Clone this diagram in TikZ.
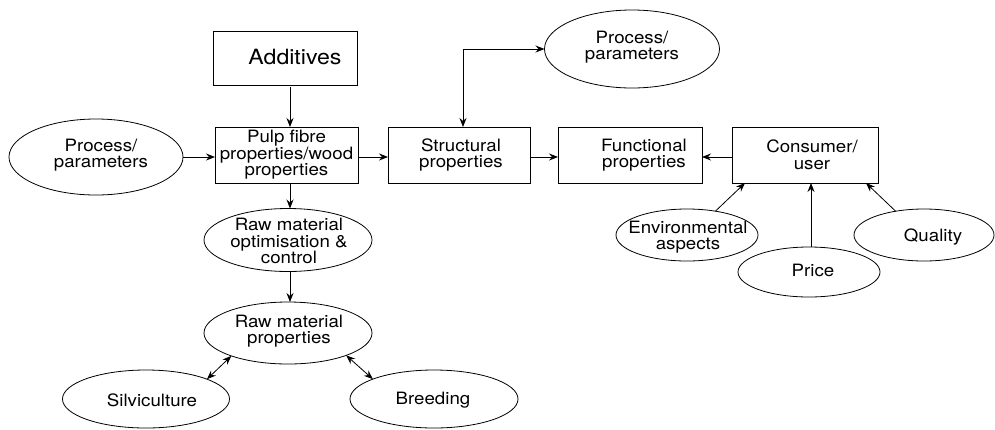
\documentclass[tikz,border=0pt]{standalone}
\usepackage{fontspec}
\setmainfont{TeX Gyre Heros}[FakeStretch=1.1]
\usetikzlibrary{shapes.geometric,arrows.meta,calc}
\begin{document}
\begin{tikzpicture}[x=1pt,y=-1pt,
  box/.style={draw,line width=0.8pt,rectangle,inner sep=0pt,outer sep=0pt},
  ell/.style={draw,ellipse,line width=0.8pt,inner sep=0pt,outer sep=0pt},
  lbl/.style={align=center,inner sep=0pt,font=\fontsize{17}{16.5}\selectfont},
  arr/.style={line width=0.8pt,-{Stealth[length=9pt,width=7pt,inset=3pt]}},
  darr/.style={line width=0.8pt,{Stealth[length=9pt,width=7pt,inset=3pt]}-{Stealth[length=9pt,width=7pt,inset=3pt]}}]
\useasboundingbox (0,0) rectangle (995,429);
% boxes
\node[box,minimum width=144pt,minimum height=54pt] (add) at (285,58) {};
\node[lbl,font=\fontsize{21}{21}\selectfont] (addt) at (295,57) {Additives};
\node[box,minimum width=143pt,minimum height=56pt] (pulp) at (286.5,155) {};
\node[lbl] (pulpt) at (286.5,155) {Pulp fibre\\properties/wood\\properties};
\node[box,minimum width=142pt,minimum height=56pt] (struct) at (459,155) {};
\node[lbl] (structt) at (461,155) {Structural\\properties};
\node[box,minimum width=144pt,minimum height=56pt] (func) at (630,155) {};
\node[lbl] (funct) at (644,155) {Functional\\properties};
\node[box,minimum width=146pt,minimum height=56pt] (cons) at (805,155) {};
\node[lbl] (const) at (812,155) {Consumer/\\user};
% ellipses
\node[ell,minimum width=174pt,minimum height=76pt] (pp1) at (96,157) {};
\node[lbl] (pp1t) at (101,155) {Process/\\parameters};
\node[ell,minimum width=175pt,minimum height=78pt] (pp2) at (632,49) {};
\node[lbl] (pp2t) at (632,47) {Process/\\parameters};
\node[ell,minimum width=168pt,minimum height=63pt] (rmo) at (288,240) {};
\node[lbl] (rmot) at (289,241) {Raw material\\optimisation \&\\control};
\node[ell,minimum width=168pt,minimum height=62pt] (rmp) at (288,333) {};
\node[lbl] (rmpt) at (289,331) {Raw material\\properties};
\node[ell,minimum width=167pt,minimum height=58pt] (silv) at (146,399) {};
\node[lbl] (silvt) at (152,400) {Silviculture};
\node[ell,minimum width=168pt,minimum height=58pt] (breed) at (434,399) {};
\node[lbl] (breedt) at (433,400) {Breeding};
\node[ell,minimum width=142pt,minimum height=52pt] (env) at (687,235) {};
\node[lbl] (envt) at (688,237) {Environmental\\aspects};
\node[ell,minimum width=142pt,minimum height=50pt] (price) at (809,272) {};
\node[lbl] (pricet) at (813,270) {Price};
\node[ell,minimum width=140pt,minimum height=52pt] (qual) at (924,235) {};
\node[lbl] (qualt) at (933,237) {Quality};
% helper coordinates
\coordinate (vx) at (290,0);
\coordinate (hy) at (0,157);
\coordinate (ex) at (463,0);
\coordinate (px) at (811,0);
\coordinate (ecx) at (745,0);
\coordinate (qcx) at (866,0);
% connectors
\draw[arr,shorten <=2pt] (add.south -| vx) -- (pulp.north -| vx);
\draw[arr] (pulp.south -| vx) -- (rmo.north -| vx);
\draw[arr] (rmo.south -| vx) -- (rmp.north -| vx);
\draw[arr] (pp1.east |- hy) -- (pulp.west |- hy);
\draw[arr] (pulp.east |- hy) -- (struct.west |- hy);
\draw[arr] (struct.east |- hy) -- (func.west |- hy);
\draw[arr] (cons.west |- hy) -- (func.east |- hy);
\draw[darr] (struct.north -| ex) |- (pp2.west);
\draw[darr] (silv.18) -- (rmp.202);
\draw[darr] (breed.162) -- (rmp.339);
\draw[arr] (env.40) -- (cons.south -| ecx);
\draw[arr] (price.north -| px) -- (cons.south -| px);
\draw[arr] (qual.140) -- (cons.south -| qcx);
\end{tikzpicture}
\end{document}
